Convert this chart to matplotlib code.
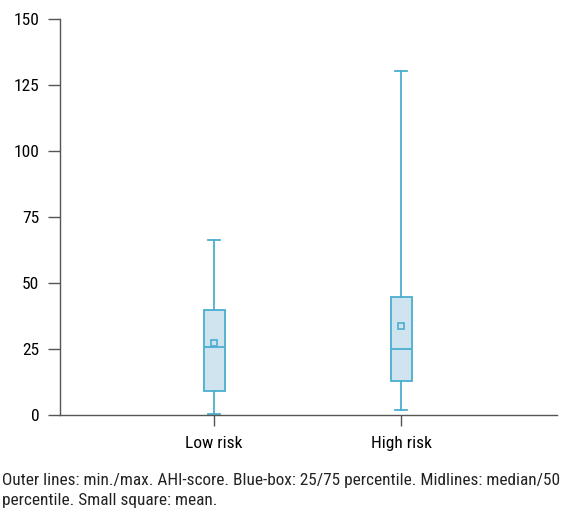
import matplotlib
matplotlib.use("Agg")
import matplotlib.pyplot as plt

plt.rcParams['font.family'] = ['Roboto Condensed', 'DejaVu Sans']

# box plot summaries
groups = ['Low risk', 'High risk']
mins = [0.4, 1.9]
q1 = [9.1, 12.9]
medians = [25.8, 25.0]
q3 = [39.8, 44.7]
maxs = [66.3, 130.3]
means = [27.3, 33.7]

caption = ("Outer lines: min./max. AHI-score. Blue-box: 25/75 percentile. Midlines: median/50\n"
           "percentile. Small square: mean.")

edge = '#4aaed0'
fill = '#cfe4ef'
axc = '#555555'

fig = plt.figure(figsize=(5.61, 5.13), dpi=100)
ax = fig.add_axes([0.107, 0.191, 0.886, 0.772])

stats = []
for i, g in enumerate(groups):
    stats.append(dict(label=g, whislo=mins[i], q1=q1[i], med=medians[i],
                      q3=q3[i], whishi=maxs[i], mean=means[i]))

ax.bxp(stats, positions=[1, 2], widths=0.112, showmeans=True, showfliers=False,
       patch_artist=True,
       boxprops=dict(facecolor=fill, edgecolor=edge, linewidth=1.3),
       medianprops=dict(color=edge, linewidth=1.3),
       whiskerprops=dict(color=edge, linewidth=1.3),
       capprops=dict(color=edge, linewidth=1.3),
       capwidths=0.065,
       meanprops=dict(marker='s', markersize=4.5, markerfacecolor=fill,
                      markeredgecolor=edge, markeredgewidth=1.2))

ax.set_xlim(0.176, 2.834)
ax.set_ylim(0, 150)
ax.set_yticks([0, 25, 50, 75, 100, 125, 150])
ax.spines['top'].set_visible(False)
ax.spines['right'].set_visible(False)
for s in ['left', 'bottom']:
    ax.spines[s].set_color(axc)
    ax.spines[s].set_linewidth(1.0)
ax.tick_params(axis='y', length=9, width=1.0, color=axc, labelsize=12.5, pad=6)
ax.tick_params(axis='x', length=8, width=1.0, color=axc, labelsize=12.5, pad=7)

fig.text(0.004, 0.044, caption, fontsize=12.4, va='center', ha='left',
         linespacing=1.45, color='#222222')

fig.savefig('out.png', dpi=100)
